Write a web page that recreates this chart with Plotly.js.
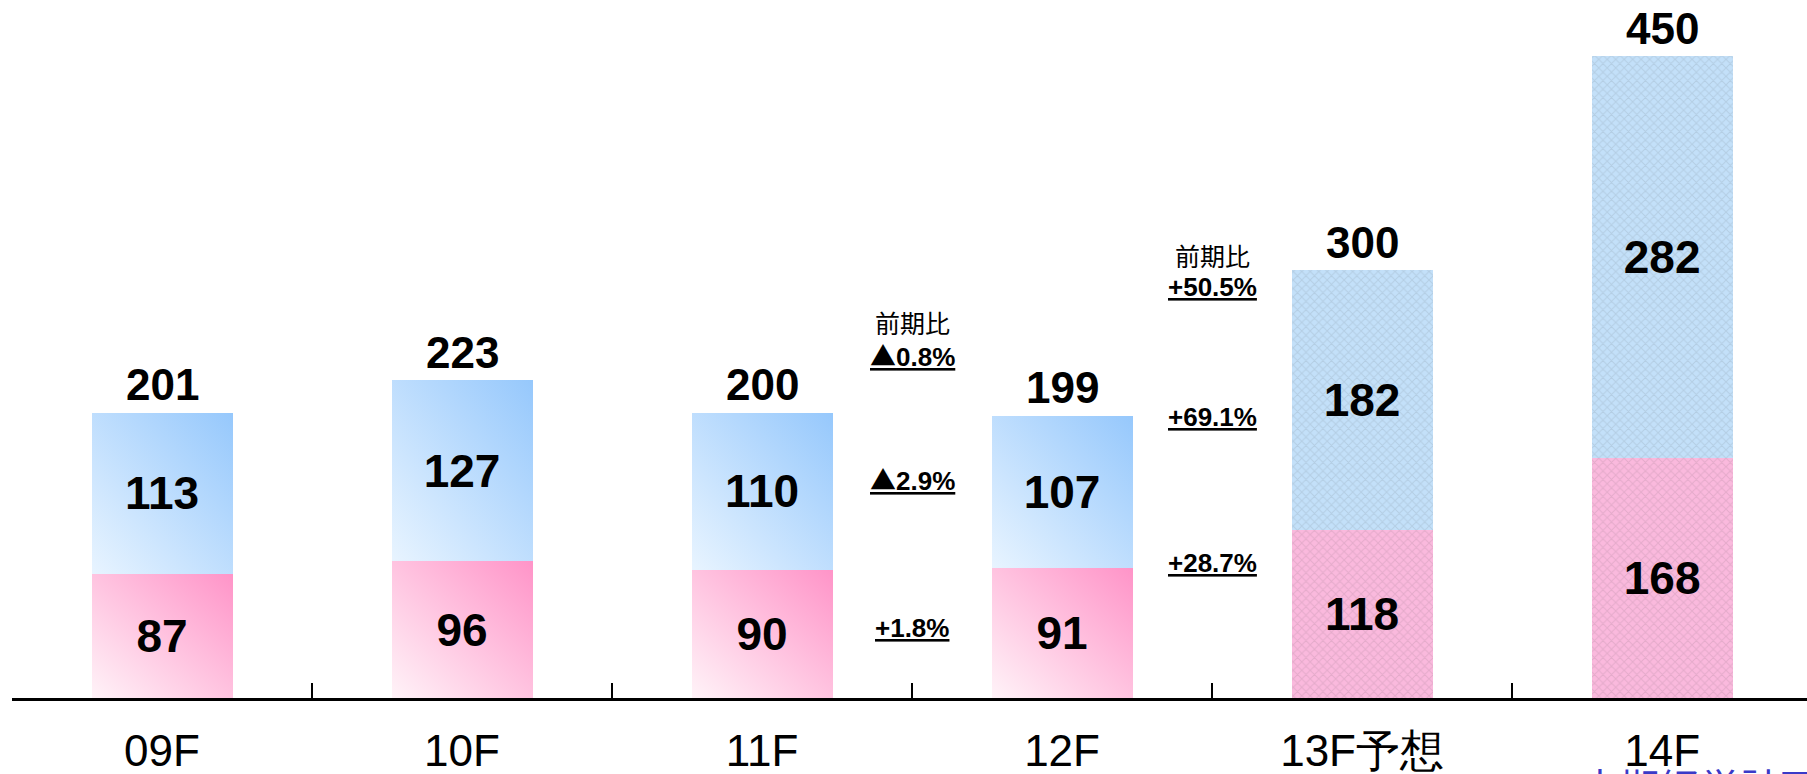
<!DOCTYPE html>
<html>
<head>
<meta charset="utf-8">
<script src="https://cdn.plot.ly/plotly-3.0.1.min.js"></script>
<style>html,body{margin:0;padding:0;background:#fff;}#chart{width:1807px;height:774px;}</style>
</head>
<body>
<div id="chart"></div>
<script>
// ---- data ----
const categories = ['09F', '10F', '11F', '12F', '13F予想', '14F'];
const lowerValues = [87, 96, 90, 91, 118, 168];     // pink segment
const upperValues = [113, 127, 110, 107, 182, 282]; // blue segment
const totalLabels = ['201', '223', '200', '199', '300', '450'];

// year-on-year comparison notes (placed between categories)
const noteX = [2.5, 2.5, 2.5, 2.5, 3.5, 3.5, 3.5, 3.5];
const noteY = [263.8, 240.6, 154.3, 49.1, 310.7, 288.3, 197.1, 94.7];
const noteText = ['前期比', '▲0.8%', '▲2.9%', '+1.8%', '前期比', '+50.5%', '+69.1%', '+28.7%'];

// ---- styles ----
const numFont = 'Liberation Sans, Arial, sans-serif';
const cjkFont = 'Noto Sans CJK JP, sans-serif';
const patternShapes = ['', '', '', '', 'x', 'x'];
const pinkColors = ['#ffc4e0', '#ffc4e0', '#ffc4e0', '#ffc4e0', '#fab9dd', '#fab9dd'];
const blueColors = ['#c4e0fc', '#c4e0fc', '#c4e0fc', '#c4e0fc', '#c3e0f9', '#c3e0f9'];

const totals = lowerValues.map((v, i) => v + upperValues[i]);

function barTrace(vals, colors, fg) {
  return {
    type: 'bar', x: categories, y: vals, width: 0.47,
    text: vals.map(String), textposition: 'inside', insidetextanchor: 'middle',
    textfont: {family: numFont, size: 46, color: '#000', weight: 'bold'},
    constraintext: 'none',
    marker: {color: colors, line: {width: 0},
      pattern: {shape: patternShapes, fillmode: 'overlay', fgcolor: fg, fgopacity: 0.12, size: 6, solidity: 0.3}},
    hoverinfo: 'skip'
  };
}
const traces = [
  barTrace(lowerValues, pinkColors, '#9a6f92'),
  barTrace(upperValues, blueColors, '#6f86a6')
];

function fmtNote(t) {
  if (t === '前期比') return t;
  let body = t;
  if (t.charAt(0) === '▲') {
    body = '<span style="font-family:Noto Sans CJK JP;font-weight:bold">▲</span>' + t.slice(1);
  }
  return '<span style="text-decoration:underline;text-decoration-thickness:3px;text-underline-offset:3px"><b>' + body + '</b></span>';
}

const annotations = [];
categories.forEach((c, i) => {
  annotations.push({
    x: c, y: totals[i], xref: 'x', yref: 'y', text: '<b>' + totalLabels[i] + '</b>',
    showarrow: false, yanchor: 'middle', yshift: 28,
    font: {family: numFont, size: 44, color: '#000'}
  });
});
noteText.forEach((t, i) => {
  const isHead = t === '前期比';
  annotations.push({
    x: noteX[i], y: noteY[i], xref: 'x', yref: 'y',
    text: fmtNote(t),
    showarrow: false, yanchor: 'middle', xanchor: 'center',
    font: isHead ? {family: cjkFont, size: 25, color: '#000'}
                 : {family: numFont, size: 26, color: '#000'}
  });
});
// partially visible caption at the bottom-right edge
annotations.push({
  x: 0.8724, y: -0.0817, xref: 'paper', yref: 'paper', xanchor: 'left', yanchor: 'top',
  text: '中期経営計画', showarrow: false,
  font: {family: cjkFont, size: 40, color: '#3a3ac8'}
});

const layout = {
  width: 1807, height: 774,
  margin: {l: 12, r: 0, t: 0, b: 76},
  paper_bgcolor: '#fff', plot_bgcolor: '#fff',
  barmode: 'stack', showlegend: false,
  xaxis: {
    type: 'category', range: [-0.5, 5.483],
    showline: true, linecolor: '#000', linewidth: 3,
    ticks: 'inside', tickson: 'boundaries', ticklen: 15, tickwidth: 2, tickcolor: '#000',
    tickfont: {family: 'Liberation Sans, Arial, sans-serif', size: 44, color: '#000'},
    ticklabelstandoff: 12,
    showgrid: false, zeroline: false, fixedrange: true
  },
  yaxis: {range: [0, 489.6], visible: false, showgrid: false, zeroline: false, fixedrange: true},
  annotations: annotations
};

Plotly.newPlot('chart', traces, layout, {staticPlot: true, displayModeBar: false}).then(gd => {
  const svg = gd.querySelector('.main-svg');
  const defs = svg.querySelector('defs');
  const ns = 'http://www.w3.org/2000/svg';
  function grad(id, c0, c1) {
    const g = document.createElementNS(ns, 'linearGradient');
    g.setAttribute('id', id);
    g.setAttribute('x1', '0'); g.setAttribute('y1', '1');
    g.setAttribute('x2', '1'); g.setAttribute('y2', '0');
    [[0, c0], [1, c1]].forEach(([o, c]) => {
      const s = document.createElementNS(ns, 'stop');
      s.setAttribute('offset', o); s.setAttribute('stop-color', c);
      g.appendChild(s);
    });
    defs.appendChild(g);
  }
  grad('gradPink', '#fff3f8', '#ff94c8');
  grad('gradBlue', '#e8f4ff', '#96c8fc');
  const barTraces = gd.querySelectorAll('.barlayer .trace');
  barTraces.forEach((tr, ti) => {
    tr.querySelectorAll('.point path').forEach((p, pi) => {
      if (patternShapes[pi] === '') p.style.fill = ti === 0 ? 'url(#gradPink)' : 'url(#gradBlue)';
    });
  });
});
</script>
</body>
</html>
